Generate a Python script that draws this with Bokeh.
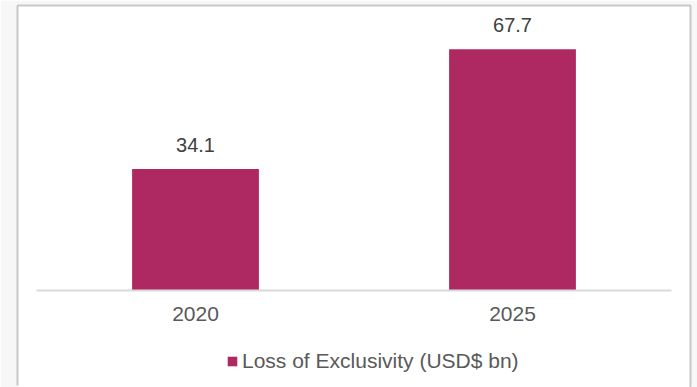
from bokeh.plotting import figure
from bokeh.models import ColumnDataSource, FactorRange, Range1d, Legend, LegendItem
from bokeh.core.properties import value
from bokeh.embed import file_html
from bokeh.resources import INLINE

# Data
years = ["2020", "2025"]
loe_values = [34.1, 67.7]
series_name = "Loss of Exclusivity (USD$ bn)"

BAR_COLOR = "#AE2862"
FONT = "Liberation Sans"

source = ColumnDataSource(data=dict(
    year=years,
    val=loe_values,
    label=[f"{v:.1f}" for v in loe_values],
))

W, H = 697, 387
LEFT, RIGHT, TOP = 17, 7, 5
frame_w, frame_h = W - LEFT - RIGHT, H - TOP

# The plot frame doubles as the white card; the grey canvas border shows around it.
p = figure(
    width=W, height=H,
    x_range=FactorRange(*years, range_padding=0.0615, range_padding_units="absolute"),
    y_range=Range1d(-27.2, 80.0),
    output_backend="svg",
    toolbar_location=None,
    min_border_left=LEFT, min_border_right=RIGHT,
    min_border_top=TOP, min_border_bottom=0,
)
p.border_fill_color = "#f7f7f7"
p.background_fill_color = "white"

# Card edge on the top, right and left sides only (the dash gap skips the bottom edge)
p.outline_line_color = "#c8c8c8"
p.outline_line_width = 2
p.outline_line_dash = f"{frame_w + frame_h} {frame_w} {frame_h + 20}"

bars = p.vbar(x="year", top="val", width=0.4, source=source,
              fill_color=BAR_COLOR, line_color=None)

# Value labels above the bars
p.text(x="year", y="val", text="label", source=source,
       text_align="center", text_baseline="alphabetic", y_offset=-24,
       text_font=value(FONT), text_font_size="20px", text_color="#404040")

p.yaxis.visible = False
p.grid.visible = False

# Category axis sits on the zero line inside the card
xa = p.xaxis[0]
xa.fixed_location = 0
xa.bounds = (0, 2)
xa.axis_line_color = "#d9d9d9"
xa.axis_line_width = 2
xa.major_tick_line_color = None
xa.minor_tick_line_color = None
xa.major_label_text_font = FONT
xa.major_label_text_font_size = "21px"
xa.major_label_text_color = "#595959"
xa.major_label_standoff = 10

legend = Legend(
    items=[LegendItem(label=series_name, renderers=[bars])],
    location=(209, 14),
    orientation="horizontal",
    border_line_color=None,
    background_fill_alpha=0,
    padding=0, margin=0, spacing=0,
    glyph_width=12, glyph_height=12,
    label_standoff=4,
    label_text_font=FONT,
    label_text_font_size="21px",
    label_text_color="#595959",
)
p.add_layout(legend, "center")

open("out.html", "w").write(file_html(p, INLINE))
